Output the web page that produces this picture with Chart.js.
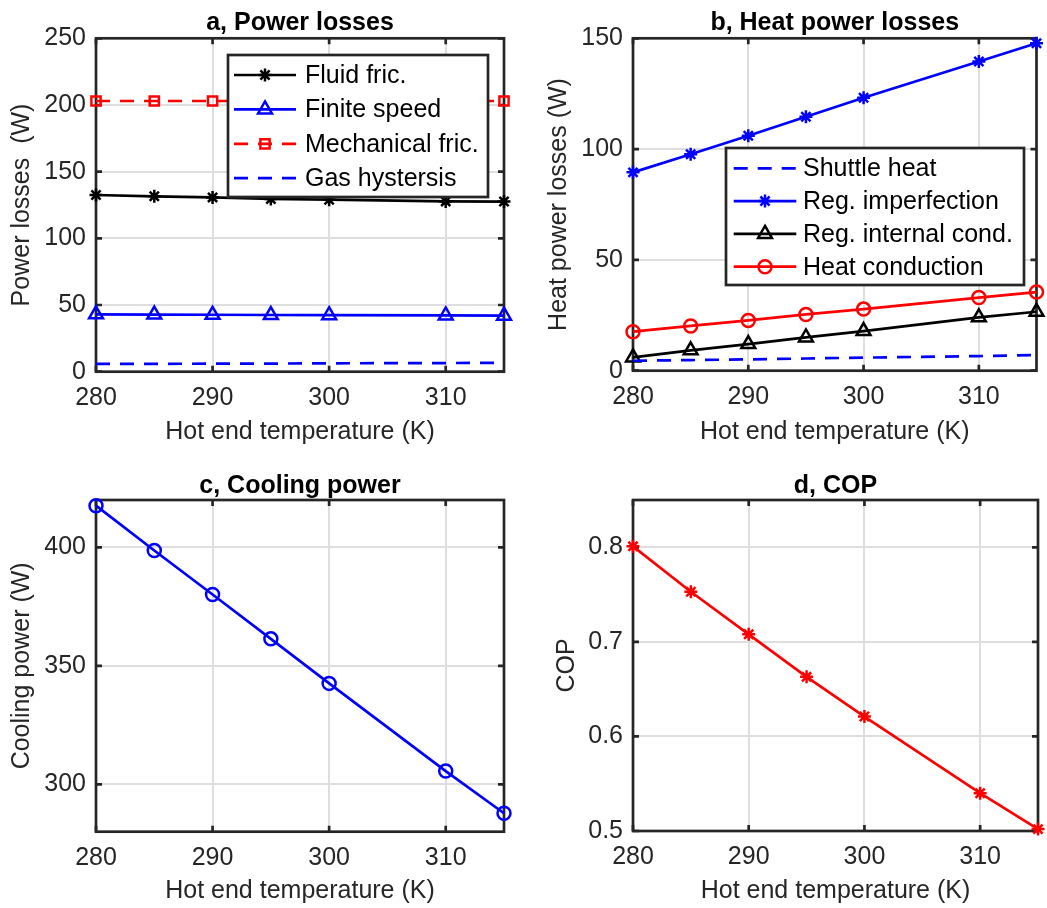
<!DOCTYPE html>
<html>
<head>
<meta charset="utf-8">
<script src="https://cdn.jsdelivr.net/npm/chart.js@4.4.1/dist/chart.umd.min.js"></script>
<style>
  html, body { margin: 0; padding: 0; background: #fff; }
  #wrap { position: relative; width: 1047px; height: 908px; background: #fff; overflow: hidden; }
  .cell { position: absolute; }
  canvas { display: block; }
</style>
</head>
<body>
<div id="wrap">
  <div class="cell" style="left:0;top:0;"><canvas id="ca" width="523" height="454"></canvas></div>
  <div class="cell" style="left:523px;top:0;"><canvas id="cb" width="524" height="454"></canvas></div>
  <div class="cell" style="left:0;top:454px;"><canvas id="cc" width="523" height="454"></canvas></div>
  <div class="cell" style="left:523px;top:454px;"><canvas id="cd" width="524" height="454"></canvas></div>
</div>
<script>
// ---------------- data ----------------
const temps = [280, 285, 290, 295, 300, 310, 315];
const xTicks = [280, 290, 300, 310];

// a, Power losses
const fluidFric   = [132.5, 131.5, 130.7, 129.5, 129.0, 127.7, 127.6];
const finiteSpeed = [43.0, 42.8, 42.7, 42.5, 42.4, 42.2, 42.0];
const mechFric    = [203, 203, 203, 203, 203, 203, 203];
const gasHyst     = [5.8, 5.9, 6.0, 6.1, 6.3, 6.5, 6.7];
const yTicksA = [0, 50, 100, 150, 200, 250];

// b, Heat power losses
const shuttleHeat = [4.5, 4.8, 5.1, 5.5, 5.9, 6.6, 7.1];
const regImperf   = [89.5, 97.7, 106.0, 114.6, 123.2, 139.5, 147.8];
const regIntCond  = [6.0, 9.2, 12.0, 15.0, 17.9, 24.1, 26.6];
const heatCond    = [17.6, 20.2, 22.7, 25.4, 27.8, 33.0, 35.5];
const yTicksB = [0, 50, 100, 150];

// c, Cooling power
const coolingPower = [417.6, 398.7, 380.1, 361.4, 342.6, 305.6, 287.8];
const yTicksC = [300, 350, 400];

// d, COP
const cop = [0.801, 0.753, 0.708, 0.663, 0.621, 0.540, 0.502];
const yTicksD = [0.5, 0.6, 0.7, 0.8];

// ---------------- styling ----------------
const FONT = "'Liberation Sans', Arial, Helvetica, sans-serif";
const AXC = '#262626';
const GRID = '#dedede';
Chart.defaults.font.family = FONT;
Chart.defaults.font.size = 25;
Chart.defaults.color = AXC;

const BLUE = '#0000ff', RED = '#ff0000', BLACK = '#000000';
const CLEAR = 'rgba(0,0,0,0)';

function series(label, values, color, extra) {
  return Object.assign({
    label: label,
    data: temps.map((t, i) => ({ x: t, y: values[i] })),
    borderColor: color,
    backgroundColor: CLEAR,
    pointBorderColor: color,
    pointBackgroundColor: CLEAR,
    borderWidth: 2.7,
    pointBorderWidth: 2.5,
    pointRadius: 0,
    tension: 0,
    clip: false,
    fill: false
  }, extra || {});
}

// frame box with inward ticks (drawn below data like MATLAB)
const framePlugin = {
  id: 'frame',
  beforeDatasetsDraw(chart) {
    const { ctx, chartArea: a } = chart;
    const x = chart.scales.x, y = chart.scales.y;
    const L = 6;
    ctx.save();
    ctx.strokeStyle = AXC;
    ctx.lineWidth = 2.7;
    ctx.setLineDash([]);
    ctx.beginPath();
    x.ticks.forEach(t => {
      const p = x.getPixelForValue(t.value);
      ctx.moveTo(p, a.bottom); ctx.lineTo(p, a.bottom - L);
      ctx.moveTo(p, a.top); ctx.lineTo(p, a.top + L);
    });
    y.ticks.forEach(t => {
      const p = y.getPixelForValue(t.value);
      ctx.moveTo(a.left, p); ctx.lineTo(a.left + L, p);
      ctx.moveTo(a.right, p); ctx.lineTo(a.right - L, p);
    });
    ctx.stroke();
    ctx.strokeRect(a.left, a.top, a.right - a.left, a.bottom - a.top);
    ctx.restore();
  }
};

function drawMarker(ctx, ds, x, y) {
  if (!ds.pointRadius) return;
  ctx.save();
  ctx.strokeStyle = ds.pointBorderColor;
  ctx.fillStyle = ds.pointBackgroundColor;
  ctx.lineWidth = ds.pointBorderWidth;
  ctx.setLineDash([]);
  Chart.helpers.drawPoint(ctx, {
    pointStyle: ds.pointStyle, radius: ds.pointRadius, rotation: 0, borderWidth: ds.pointBorderWidth
  }, x, y);
  ctx.restore();
}

// MATLAB-like boxed legend inside the axes
const boxLegend = {
  id: 'boxLegend',
  afterDatasetsDraw(chart, args, o) {
    if (!o || !o.box) return;
    const { ctx } = chart;
    const b = o.box;
    ctx.save();
    ctx.fillStyle = '#ffffff';
    ctx.fillRect(b.left, b.top, b.width, b.height);
    ctx.strokeStyle = AXC;
    ctx.lineWidth = 2.7;
    ctx.strokeRect(b.left, b.top, b.width, b.height);
    chart.data.datasets.forEach((ds, i) => {
      const cy = b.top + o.firstRow + i * o.rowGap;
      const x0 = b.left + o.lineX0, x1 = b.left + o.lineX1;
      ctx.strokeStyle = ds.borderColor;
      ctx.lineWidth = ds.borderWidth;
      ctx.setLineDash(ds.borderDash || []);
      ctx.beginPath();
      ctx.moveTo(x0, cy); ctx.lineTo(x1, cy);
      ctx.stroke();
      ctx.setLineDash([]);
      drawMarker(ctx, ds, (x0 + x1) / 2, cy);
      ctx.fillStyle = '#000000';
      ctx.font = '25px ' + FONT;
      ctx.textAlign = 'left';
      ctx.textBaseline = 'middle';
      ctx.fillText(ds.label, b.left + o.textX, cy + 1);
    });
    ctx.restore();
  }
};

function makeChart(id, cfg) {
  const canvas = document.getElementById(id);
  const W = canvas.width, H = canvas.height;
  const yTicks = cfg.yTicks;
  return new Chart(canvas, {
    type: 'line',
    data: { datasets: cfg.datasets },
    options: {
      responsive: false,
      animation: false,
      devicePixelRatio: 1,
      layout: { padding: { left: 0, right: W - cfg.area.right, top: 0, bottom: 0 } },
      plugins: {
        legend: { display: false },
        tooltip: { enabled: false },
        title: {
          display: true,
          text: cfg.title,
          fullSize: false,
          color: '#000000',
          font: { size: 25, weight: 'bold', lineHeight: 1 },
          padding: cfg.titlePad
        },
        boxLegend: cfg.legend || {}
      },
      scales: {
        x: {
          type: 'linear',
          min: 280, max: 315,
          afterBuildTicks: s => { s.ticks = xTicks.map(v => ({ value: v })); },
          afterFit: s => { s.height = H - cfg.area.bottom; },
          grid: { color: GRID, lineWidth: 2, drawTicks: false },
          border: { display: false },
          ticks: { padding: 11, color: AXC, maxRotation: 0, autoSkip: false, callback: v => String(v) },
          title: { display: true, text: 'Hot end temperature (K)', color: AXC, padding: { top: 0, bottom: cfg.xTitlePad } }
        },
        y: {
          type: 'linear',
          min: cfg.yMin, max: cfg.yMax,
          afterBuildTicks: s => { s.ticks = yTicks.map(v => ({ value: v })); },
          afterFit: s => { s.width = cfg.area.left; },
          grid: { color: GRID, lineWidth: 2, drawTicks: false },
          border: { display: false },
          ticks: { padding: 10, color: AXC, autoSkip: false, callback: v => String(v) },
          title: { display: true, text: cfg.yTitle, color: AXC, padding: { top: cfg.yTitlePad, bottom: 0 } }
        }
      }
    },
    plugins: [framePlugin, boxLegend]
  });
}

// a
makeChart('ca', {
  title: 'a, Power losses',
  titlePad: { top: 10.5, bottom: 2.8 },
  area: { left: 96, right: 504, bottom: 371.7 },
  yMin: 0, yMax: 250, yTicks: yTicksA,
  yTitle: 'Power losses  (W)', yTitlePad: 7.5, xTitlePad: 7,
  datasets: [
    series('Fluid fric.', fluidFric, BLACK, { pointStyle: 'star', pointRadius: 6.5 }),
    series('Finite speed', finiteSpeed, BLUE, { pointStyle: 'triangle', pointRadius: 8 }),
    series('Mechanical fric.', mechFric, RED, { pointStyle: 'rect', pointRadius: 6.5, borderDash: [14, 10] }),
    series('Gas hystersis', gasHyst, BLUE, { borderDash: [14, 10] })
  ],
  legend: { box: { left: 228, top: 55, width: 260, height: 142 }, firstRow: 20, rowGap: 34.4, lineX0: 6, lineX1: 68, textX: 77 }
});

// b
makeChart('cb', {
  title: 'b, Heat power losses',
  titlePad: { top: 10.5, bottom: 2.8 },
  area: { left: 110, right: 518, bottom: 370.7 },
  yMin: 0, yMax: 150, yTicks: yTicksB,
  yTitle: 'Heat power losses (W)', yTitlePad: 21, xTitlePad: 7,
  datasets: [
    series('Shuttle heat', shuttleHeat, BLUE, { borderDash: [14, 10] }),
    series('Reg. imperfection', regImperf, BLUE, { pointStyle: 'star', pointRadius: 6.5 }),
    series('Reg. internal cond.', regIntCond, BLACK, { pointStyle: 'triangle', pointRadius: 8 }),
    series('Heat conduction', heatCond, RED, { pointStyle: 'circle', pointRadius: 6.5 })
  ],
  legend: { box: { left: 203, top: 148, width: 298, height: 137 }, firstRow: 20.3, rowGap: 32.8, lineX0: 7.7, lineX1: 70.3, textX: 77 }
});

// c
makeChart('cc', {
  title: 'c, Cooling power',
  titlePad: { top: 19.8, bottom: 1.2 },
  area: { left: 96, right: 504, bottom: 377.7 },
  yMin: 280, yMax: 420, yTicks: yTicksC,
  yTitle: 'Cooling power (W)', yTitlePad: 7.5, xTitlePad: 1.6,
  datasets: [
    series('Cooling power', coolingPower, BLUE, { pointStyle: 'circle', pointRadius: 6.5 })
  ]
});

// d
makeChart('cd', {
  title: 'd, COP',
  titlePad: { top: 19.8, bottom: 1.2 },
  area: { left: 110, right: 518, bottom: 377 },
  yMin: 0.5, yMax: 0.85, yTicks: yTicksD,
  yTitle: 'COP', yTitlePad: 29, xTitlePad: 1.6,
  datasets: [
    series('COP', cop, RED, { pointStyle: 'star', pointRadius: 6.5 })
  ]
});
</script>
</body>
</html>
